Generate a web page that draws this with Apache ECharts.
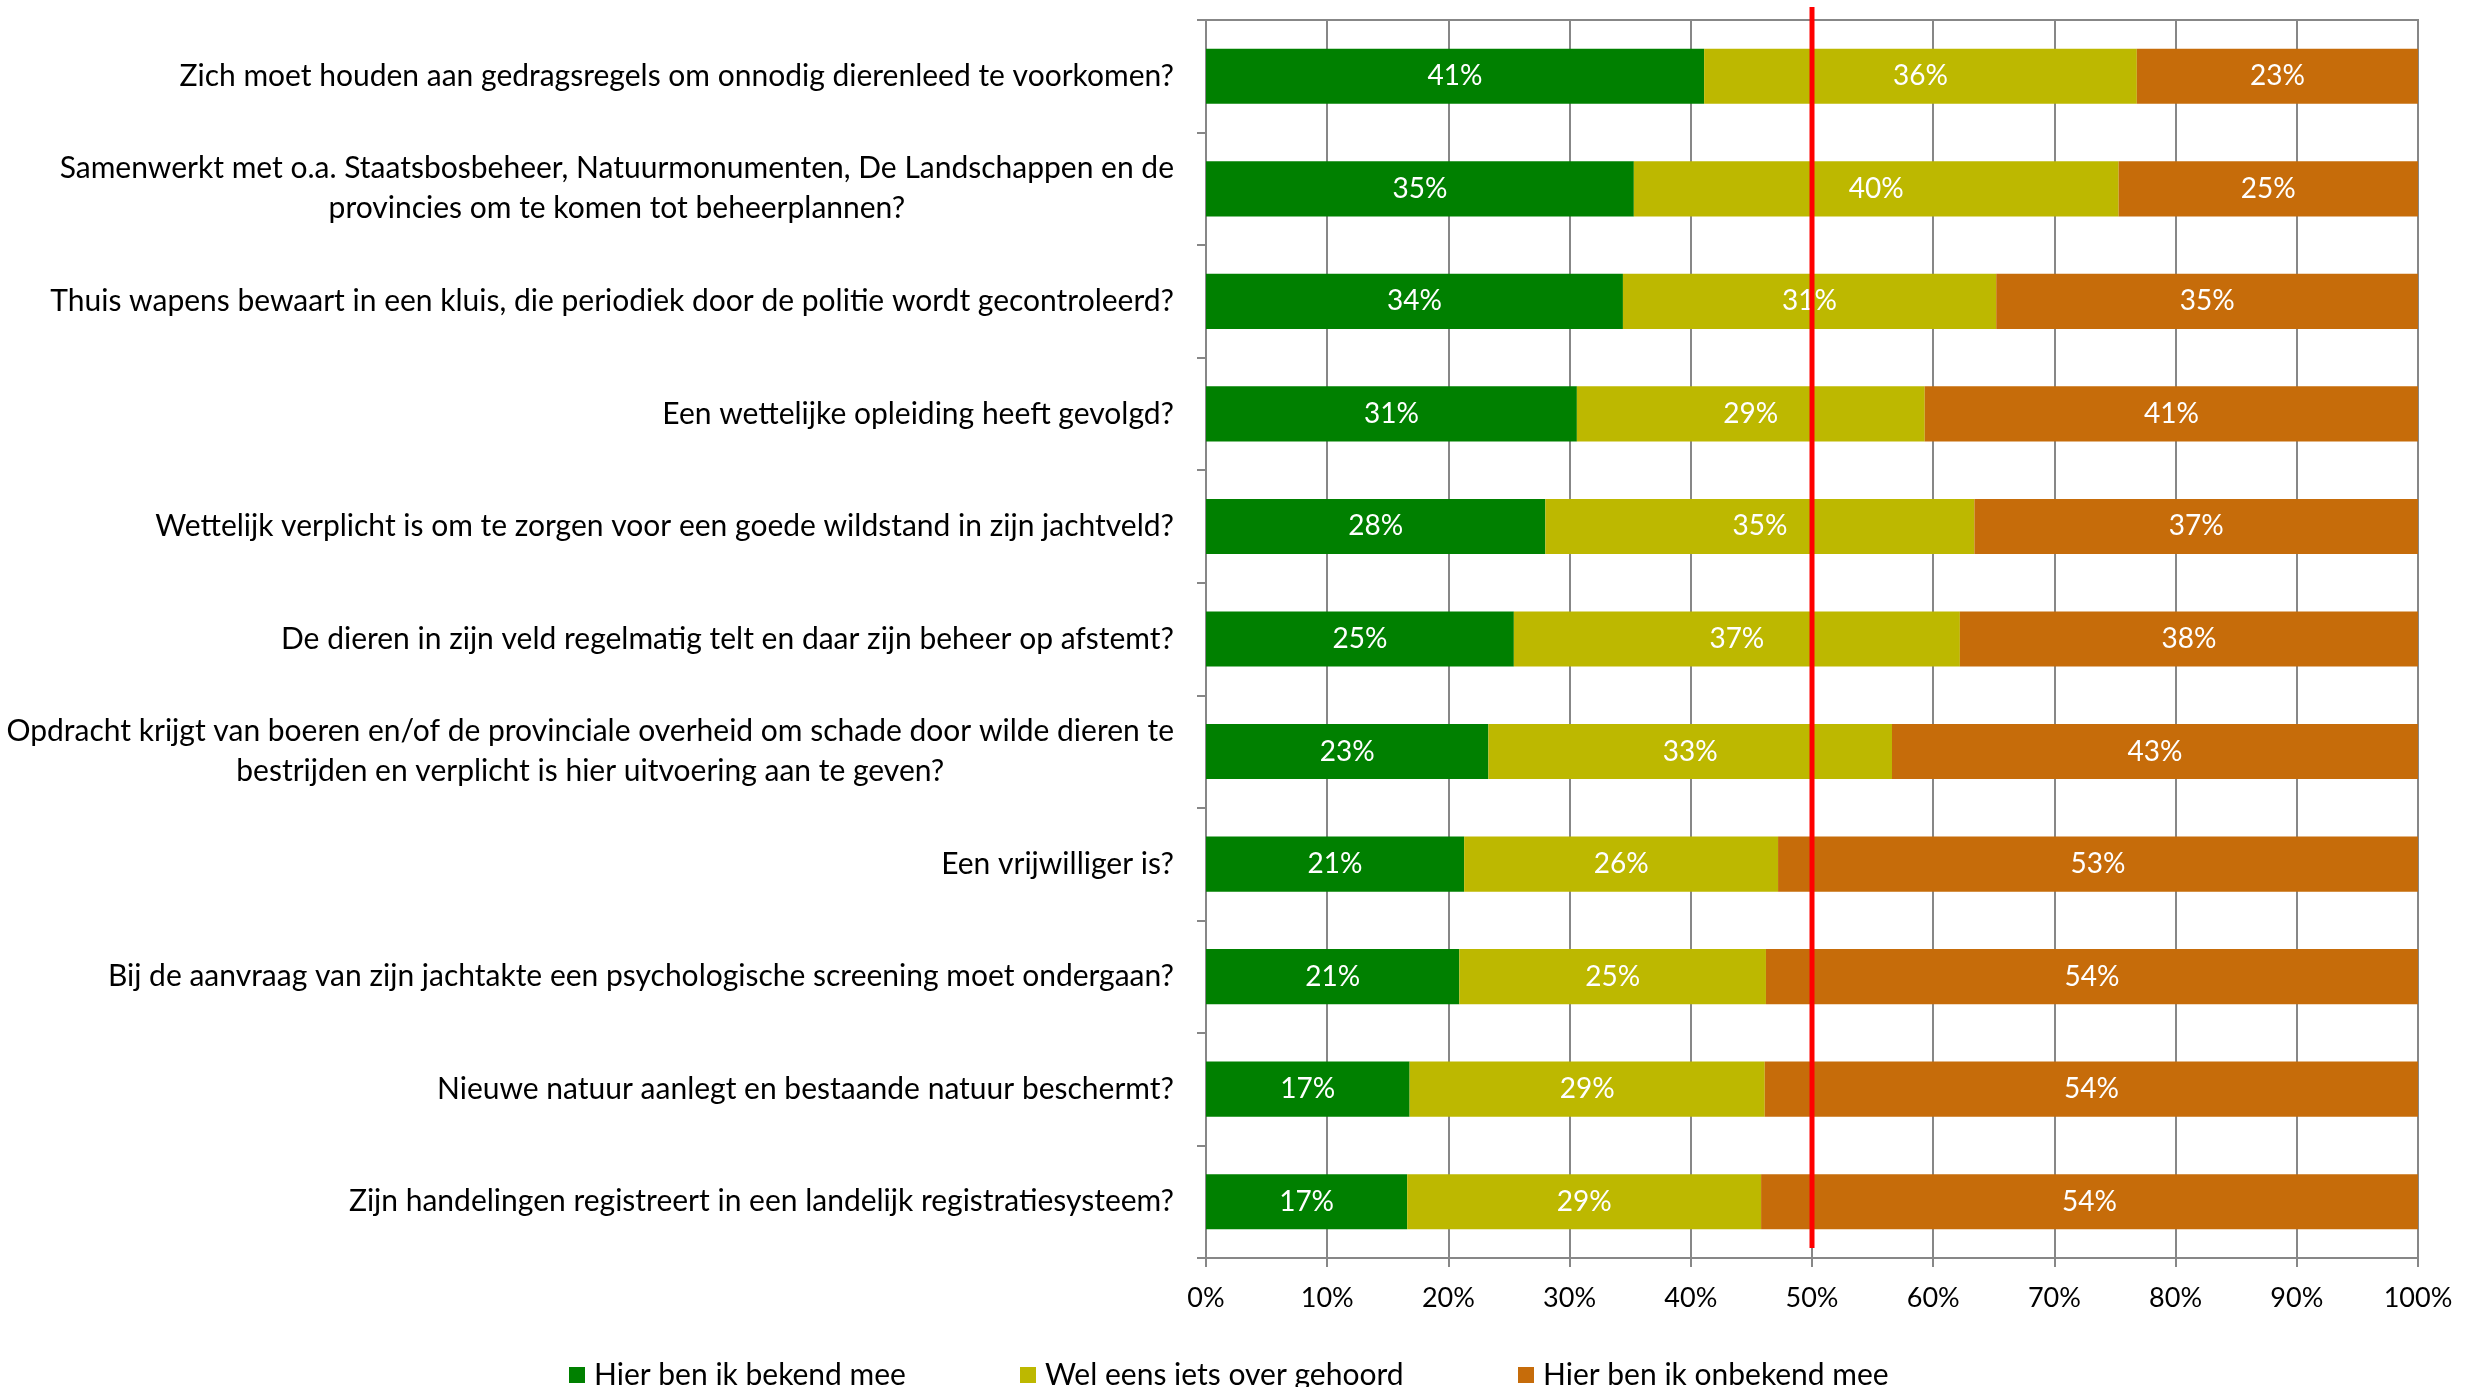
<!DOCTYPE html>
<html>
<head>
<meta charset="utf-8">
<title>Bekendheid jager</title>
<script src="https://cdn.jsdelivr.net/npm/echarts@6/dist/echarts.min.js"></script>
<style>
  html, body { margin: 0; padding: 0; background: #fff; }
  #chart { width: 2478px; height: 1387px; }
</style>
</head>
<body>
<div id="chart"></div>
<script>
var questions = [
  'Zich moet houden aan gedragsregels om onnodig dierenleed te voorkomen?',
  'Samenwerkt met o.a. Staatsbosbeheer, Natuurmonumenten, De Landschappen en de\nprovincies om te komen tot beheerplannen?',
  'Thuis wapens bewaart in een kluis, die periodiek door de politie wordt gecontroleerd?',
  'Een wettelijke opleiding heeft gevolgd?',
  'Wettelijk verplicht is om te zorgen voor een goede wildstand in zijn jachtveld?',
  'De dieren in zijn veld regelmatig telt en daar zijn beheer op afstemt?',
  'Opdracht krijgt van boeren en/of de provinciale overheid om schade door wilde dieren te\nbestrijden en verplicht is hier uitvoering aan te geven?',
  'Een vrijwilliger is?',
  'Bij de aanvraag van zijn jachtakte een psychologische screening moet ondergaan?',
  'Nieuwe natuur aanlegt en bestaande natuur beschermt?',
  'Zijn handelingen registreert in een landelijk registratiesysteem?'
];

var seriesNames = ['Hier ben ik bekend mee', 'Wel eens iets over gehoord', 'Hier ben ik onbekend mee'];

var bekend =   [41.1, 35.3, 34.4, 30.6, 28.0, 25.4, 23.3, 21.3, 20.9, 16.8, 16.6];
var gehoord =  [35.7, 40.0, 30.8, 28.7, 35.4, 36.8, 33.3, 25.9, 25.3, 29.3, 29.2];
var onbekend = [23.2, 24.7, 34.8, 40.7, 36.6, 37.8, 43.4, 52.8, 53.8, 53.9, 54.2];

var xTicks = [0, 10, 20, 30, 40, 50, 60, 70, 80, 90, 100];
var referenceLine = 50;

var colors = ['#008000', '#bdb800', '#c66c0a'];
var font = 'Lato';

var chart = echarts.init(document.getElementById('chart'), null, { renderer: 'canvas' });

function barSeries(name, values, color) {
  return {
    name: name,
    type: 'bar',
    stack: 'total',
    barCategoryGap: '51%',
    itemStyle: { color: color },
    label: {
      show: true,
      position: 'inside',
      color: '#ffffff',
      fontFamily: font,
      fontSize: 28,
      formatter: function (p) { return Math.round(p.value) + '%'; }
    },
    data: values
  };
}

function legendItem(name, left) {
  return {
    data: [name],
    left: left,
    top: 1355,
    icon: 'rect',
    itemWidth: 16,
    itemHeight: 16,
    textStyle: { fontFamily: font, fontSize: 30, color: '#000', padding: [0, 0, 0, 4] }
  };
}

chart.setOption({
  animation: false,
  backgroundColor: '#ffffff',
  grid: {
    left: 1206, right: 60, top: 20, bottom: 129,
    containLabel: false,
    show: true,
    borderColor: '#878787',
    borderWidth: 2
  },
  legend: [
    legendItem(seriesNames[0], 564),
    legendItem(seriesNames[1], 1015),
    legendItem(seriesNames[2], 1513)
  ],
  xAxis: {
    type: 'value',
    min: 0,
    max: 100,
    interval: 10,
    axisLine: { show: true, lineStyle: { color: '#878787', width: 2 } },
    axisTick: { show: true, length: 9, lineStyle: { color: '#878787', width: 2 } },
    splitLine: { show: true, lineStyle: { color: '#878787', width: 2 } },
    axisLabel: {
      margin: 27,
      fontFamily: font,
      fontSize: 27,
      color: '#000',
      formatter: function (v) { return xTicks.indexOf(v) >= 0 ? v + '%' : ''; }
    }
  },
  yAxis: {
    type: 'category',
    inverse: true,
    data: questions,
    axisLine: { show: true, lineStyle: { color: '#878787', width: 2 } },
    axisTick: { show: true, length: 9, lineStyle: { color: '#878787', width: 2 } },
    splitLine: { show: false },
    axisLabel: {
      margin: 32,
      color: '#000',
      fontFamily: font,
      fontSize: 30,
      lineHeight: 40,
      formatter: function (v) {
        return v.split('\n').map(function (line) { return '{c|' + line + '}'; }).join('\n');
      },
      rich: {
        c: { align: 'center', fontFamily: font, fontSize: 30, lineHeight: 40, color: '#000' }
      }
    }
  },
  series: [
    barSeries(seriesNames[0], bekend, colors[0]),
    barSeries(seriesNames[1], gehoord, colors[1]),
    barSeries(seriesNames[2], onbekend, colors[2]),
    {
      // red 50% line, runs a little past the top of the plot
      type: 'custom',
      silent: true,
      z: 10,
      encode: { x: 0, y: 1 },
      data: [[referenceLine, 0]],
      renderItem: function (params, api) {
        var x = api.coord([api.value(0), 0])[0];
        var cs = params.coordSys;
        return {
          type: 'line',
          shape: { x1: x, y1: cs.y - 13, x2: x, y2: cs.y + cs.height - 10 },
          style: { stroke: '#ff0000', lineWidth: 5 }
        };
      }
    }
  ]
});
</script>
</body>
</html>
